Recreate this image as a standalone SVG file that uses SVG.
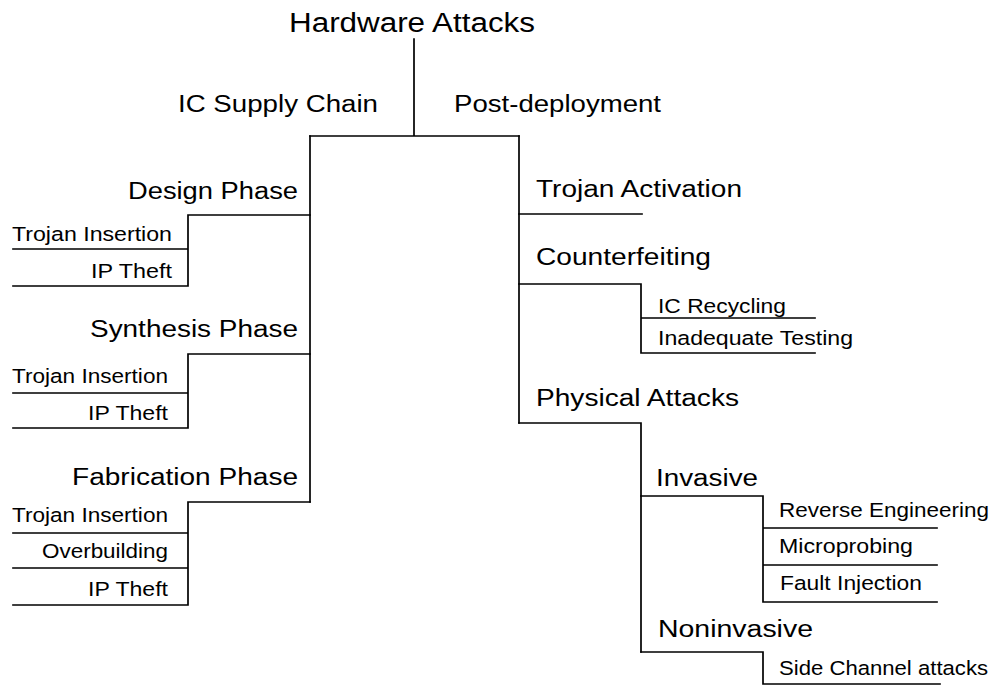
<svg xmlns="http://www.w3.org/2000/svg" width="1000" height="687" viewBox="0 0 1000 687">
  <style>
    text { font-family: "Liberation Sans", Arial, sans-serif; fill: #000; }
    .root { font-size: 27px; }
    .l2 { font-size: 23.5px; }
    .leaf { font-size: 19.3px; }
    .r { text-anchor: end; }
    .edge { fill: none; stroke: #000; stroke-width: 1.7; stroke-linecap: square; stroke-linejoin: miter; }
  </style>
  <rect width="1000" height="687" fill="#fff"/>

  <!-- tree connectors -->
  <g id="connectors">
    <path class="edge" d="M414,39 V136 M310,136 H519"/>
    <!-- IC supply chain branch -->
    <path class="edge" d="M310,136 V502"/>
    <path class="edge" d="M310,215 H188 V286 M13,249 H188 M13,286 H188"/>
    <path class="edge" d="M310,354 H188 V428 M13,393 H188 M13,428 H188"/>
    <path class="edge" d="M310,502 H188 V605 M13,533 H188 M13,568 H188 M13,605 H188"/>
    <!-- post-deployment branch -->
    <path class="edge" d="M519,136 V423"/>
    <path class="edge" d="M519,214 H642"/>
    <path class="edge" d="M519,284 H641 V353 M641,318 H815 M641,353 H815"/>
    <path class="edge" d="M519,423 H641 V652"/>
    <path class="edge" d="M641,496 H763 V602 M763,528 H937 M763,565 H937 M763,602 H937"/>
    <path class="edge" d="M641,652 H763 V684 M763,684 H940"/>
  </g>

  <g id="hardware-attacks"><text class="root" x="412" y="32" text-anchor="middle" textLength="246" lengthAdjust="spacingAndGlyphs">Hardware Attacks</text></g>
  <g id="ic-supply-chain"><text class="l2 r" x="378" y="112" textLength="200" lengthAdjust="spacingAndGlyphs">IC Supply Chain</text></g>
  <g id="post-deployment"><text class="l2" x="454" y="112" textLength="207" lengthAdjust="spacingAndGlyphs">Post-deployment</text></g>

  <!-- design phase -->
  <g id="design-phase"><text class="l2 r" x="298" y="199" textLength="170" lengthAdjust="spacingAndGlyphs">Design Phase</text></g>
  <g id="design-trojan"><text class="leaf r" x="172" y="241" textLength="160" lengthAdjust="spacingAndGlyphs">Trojan Insertion</text></g>
  <g id="design-ip-theft"><text class="leaf r" x="172" y="278" textLength="81" lengthAdjust="spacingAndGlyphs">IP Theft</text></g>

  <!-- synthesis phase -->
  <g id="synthesis-phase"><text class="l2 r" x="298" y="337" textLength="208" lengthAdjust="spacingAndGlyphs">Synthesis Phase</text></g>
  <g id="synthesis-trojan"><text class="leaf r" x="168" y="383" textLength="156" lengthAdjust="spacingAndGlyphs">Trojan Insertion</text></g>
  <g id="synthesis-ip-theft"><text class="leaf r" x="168" y="420" textLength="80" lengthAdjust="spacingAndGlyphs">IP Theft</text></g>

  <!-- fabrication phase -->
  <g id="fabrication-phase"><text class="l2 r" x="298" y="485" textLength="226" lengthAdjust="spacingAndGlyphs">Fabrication Phase</text></g>
  <g id="fabrication-trojan"><text class="leaf r" x="168" y="522" textLength="156" lengthAdjust="spacingAndGlyphs">Trojan Insertion</text></g>
  <g id="fabrication-overbuilding"><text class="leaf r" x="168" y="558" textLength="126" lengthAdjust="spacingAndGlyphs">Overbuilding</text></g>
  <g id="fabrication-ip-theft"><text class="leaf r" x="168" y="596" textLength="80" lengthAdjust="spacingAndGlyphs">IP Theft</text></g>

  <!-- post-deployment attacks -->
  <g id="trojan-activation"><text class="l2" x="536" y="197" textLength="206" lengthAdjust="spacingAndGlyphs">Trojan Activation</text></g>
  <g id="counterfeiting"><text class="l2" x="536" y="265" textLength="175" lengthAdjust="spacingAndGlyphs">Counterfeiting</text></g>
  <g id="ic-recycling"><text class="leaf" x="658" y="313" textLength="128" lengthAdjust="spacingAndGlyphs">IC Recycling</text></g>
  <g id="inadequate-testing"><text class="leaf" x="658" y="345" textLength="195" lengthAdjust="spacingAndGlyphs">Inadequate Testing</text></g>
  <g id="physical-attacks"><text class="l2" x="536" y="406" textLength="203" lengthAdjust="spacingAndGlyphs">Physical Attacks</text></g>
  <g id="invasive"><text class="l2" x="656" y="486" textLength="102" lengthAdjust="spacingAndGlyphs">Invasive</text></g>
  <g id="reverse-engineering"><text class="leaf" x="779" y="517" textLength="210" lengthAdjust="spacingAndGlyphs">Reverse Engineering</text></g>
  <g id="microprobing"><text class="leaf" x="779" y="553" textLength="134" lengthAdjust="spacingAndGlyphs">Microprobing</text></g>
  <g id="fault-injection"><text class="leaf" x="780" y="590" textLength="142" lengthAdjust="spacingAndGlyphs">Fault Injection</text></g>
  <g id="noninvasive"><text class="l2" x="658" y="637" textLength="155" lengthAdjust="spacingAndGlyphs">Noninvasive</text></g>
  <g id="side-channel"><text class="leaf" x="779" y="675" textLength="209" lengthAdjust="spacingAndGlyphs">Side Channel attacks</text></g>
</svg>
